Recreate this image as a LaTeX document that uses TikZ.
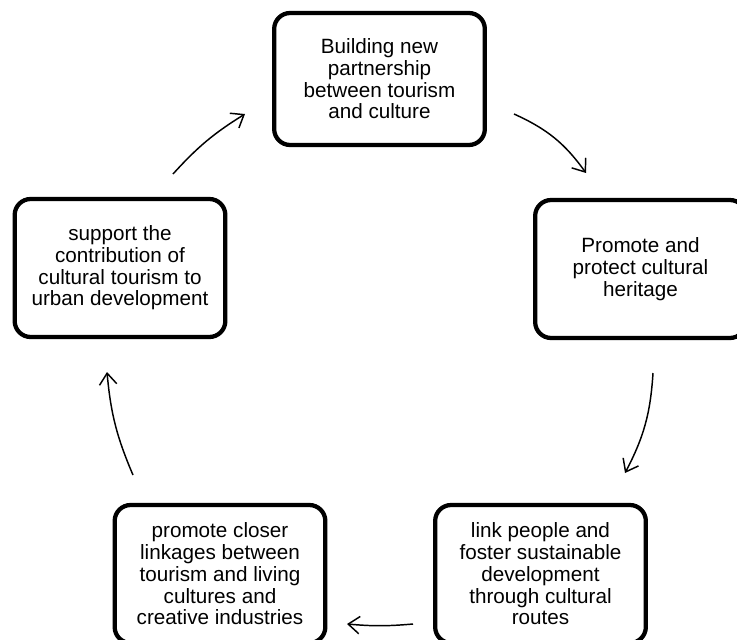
\documentclass[tikz,border=0pt]{standalone}
\usepackage{fontspec}
\setmainfont{Liberation Sans}
\usetikzlibrary{arrows.meta}

\begin{document}
\begin{tikzpicture}[x=0.75pt,y=0.75pt,yscale=-1,xscale=1,
  stage/.style={draw,line width=3.2pt,rounded corners=12pt,minimum width=158pt,minimum height=103.5pt,inner sep=0pt,align=center,font=\fontsize{15.5}{16.3}\selectfont},
  flow/.style={line width=1.1pt,-{Straight Barb[length=8.5pt,width=13pt]}}]
                  %set diagram left start at 0, and has height of 639
                  \useasboundingbox (0,0) rectangle (737,639);

                  %Shape: Rounded Rect [id:top]
                  \node [stage,minimum height=99pt] (partner) at (379.5,79) {Building new\\partnership\\between tourism\\and culture};
                  %Shape: Rounded Rect [id:right]
                  \node [stage] (heritage) at (640.5,269) {Promote and\\protect cultural\\heritage};
                  %Shape: Rounded Rect [id:bottom right]
                  \node [stage] (routes) at (540.5,574) {link people and\\foster sustainable\\development\\through cultural\\routes};
                  %Shape: Rounded Rect [id:bottom left]
                  \node [stage] (living) at (220,574) {promote closer\\linkages between\\tourism and living\\cultures and\\creative industries};
                  %Shape: Rounded Rect [id:left]
                  \node [stage] (urban) at (120,268) {support the\\contribution of\\cultural tourism to\\urban development};

                  %Arrow ends
                  \coordinate (a1) at (514,114);
                  \coordinate (b1) at (586,173);
                  \coordinate (a2) at (653,373);
                  \coordinate (b2) at (625,473);
                  \coordinate (a3) at (413,624);
                  \coordinate (b3) at (347,624);
                  \coordinate (a4) at (133,475);
                  \coordinate (b4) at (107,372);
                  \coordinate (a5) at (173,174);
                  \coordinate (b5) at (245,114);

                  %Curves
                  \draw [flow] (a1) to [bend right=15] (b1);
                  \draw [flow] (a2) to [bend right=12] (b2);
                  \draw [flow] (a3) to [bend right=5] (b3);
                  \draw [flow] (a4) to [bend right=9] (b4);
                  \draw [flow] (a5) to [bend right=8] (b5);

\end{tikzpicture}
\end{document}
